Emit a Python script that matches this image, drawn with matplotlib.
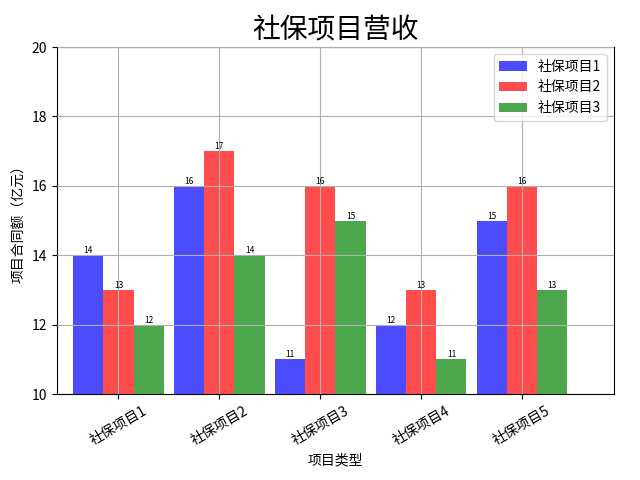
import matplotlib
matplotlib.use("Agg")
import matplotlib.pyplot as plt
import numpy as np

plt.rcParams['font.family'] = 'Noto Sans CJK SC'
plt.rcParams['axes.unicode_minus'] = False

categories = ['社保项目1', '社保项目2', '社保项目3', '社保项目4', '社保项目5']
series_names = ['社保项目1', '社保项目2', '社保项目3']
s1 = [14, 16, 11, 12, 15]
s2 = [13, 17, 16, 13, 16]
s3 = [12, 14, 15, 11, 13]
colors = ['blue', 'red', 'green']

fig, ax = plt.subplots(figsize=(6.4, 4.8), dpi=100)
x = np.arange(len(categories))
w = 0.3
for i, (vals, name, c) in enumerate(zip([s1, s2, s3], series_names, colors)):
    bars = ax.bar(x + i * w, vals, width=w, color=c, alpha=0.7, label=name)
    for b, v in zip(bars, vals):
        ax.text(b.get_x() + b.get_width() / 2, v, str(v), ha='center', va='bottom', fontsize=6)

ax.set_xticks(x + w)
ax.set_xticklabels(categories, rotation=30)
ax.set_ylim(10, 20)
ax.set_xlim(-0.31, 5.21)
ax.grid(True)
ax.set_axisbelow(False)
ax.set_xlabel('项目类型')
ax.set_ylabel('项目合同额（亿元）')
ax.set_title('社保项目营收', fontsize=20)
ax.legend(loc='upper right')
fig.subplots_adjust(left=0.089, right=0.959, top=0.902, bottom=0.179)
fig.savefig('out.png')
